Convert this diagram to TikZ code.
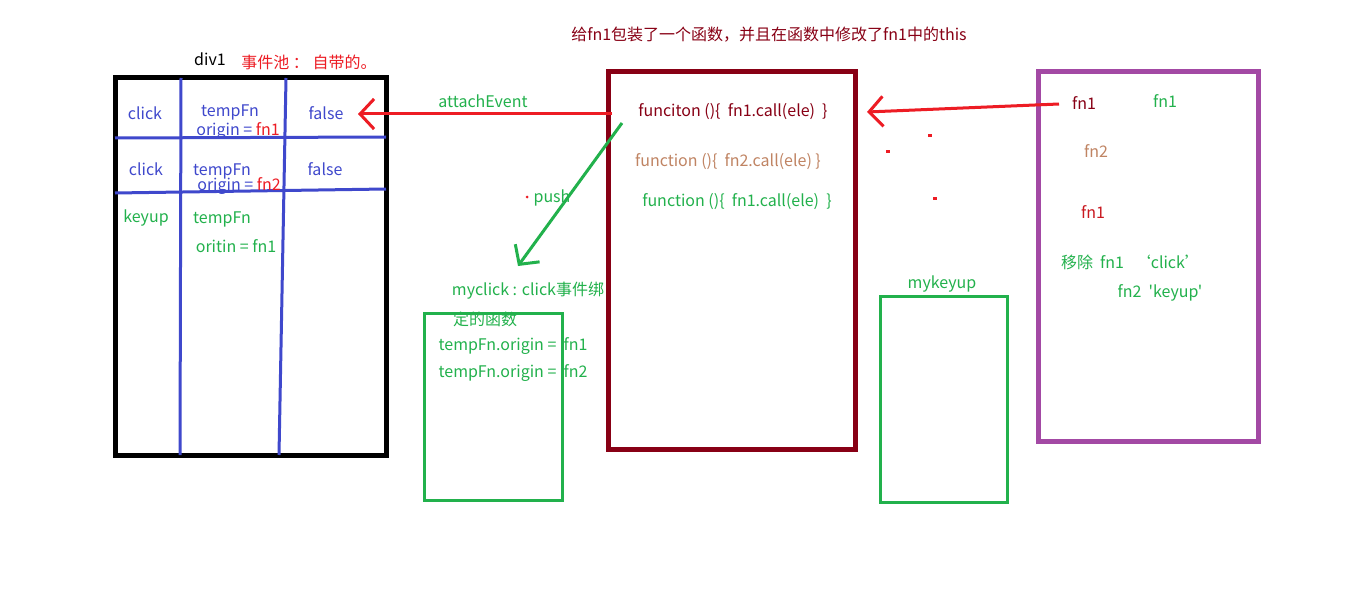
\documentclass[tikz,border=0pt]{standalone}
\usepackage{fontspec}
\newfontfamily\mainf{Noto Sans CJK SC}
\usetikzlibrary{arrows.meta}
\definecolor{cred}{HTML}{ED1C24}
\definecolor{cgreen}{HTML}{22B14C}
\definecolor{cdark}{HTML}{880015}
\definecolor{cpurple}{HTML}{A349A4}
\definecolor{cblue}{HTML}{3F48CC}
\definecolor{ctan}{HTML}{C08463}
\tikzset{
  txt/.style={inner sep=0pt, font=\mainf\fontsize{16}{19}\selectfont, anchor=center},
  bluetxt/.style={txt, text=cblue},
  greentxt/.style={txt, text=cgreen},
  gridline/.style={draw=cblue, line width=3pt},
  chev/.style={-{Straight Barb[length=14pt,width=30pt,line width=3pt]}},
}
\begin{document}
\begin{tikzpicture}[x=1pt,y=-1pt]
\useasboundingbox[fill=white] (0,0) rectangle (1360,591);
% title
\node[txt, text=cdark] (title) at (769,35) {给fn1包装了一个函数，并且在函数中修改了fn1中的this};
% event pool table
\node[txt] (div1) at (210,59) {div1};
\node[txt, text=cred] (pool) at (309,62) {事件池 ： 自带的。};
\draw[line width=5pt] (115,78) rectangle (386,455);
\coordinate (v1t) at (181,78); \coordinate (v1b) at (180,455);
\coordinate (v2t) at (286,78); \coordinate (v2b) at (279,455);
\coordinate (h1l) at (115,138); \coordinate (h1r) at (386,137);
\coordinate (h2l) at (115,193); \coordinate (h2r) at (386,189);
\draw[gridline] (v1t) -- (v1b);
\draw[gridline] (v2t) -- (v2b);
\draw[gridline] (h1l) -- (h1r);
\draw[gridline] (h2l) -- (h2r);
\node[bluetxt] (c1) at (145,113) {click};
\node[bluetxt] (t1) at (230,112) {tempFn};
\node[txt] (o1) at (238,131) {\color{cblue}origin\ =\ \color{cred}fn1};
\node[bluetxt] (f1) at (326,113) {false};
\node[bluetxt] (c2) at (146,169) {click};
\node[bluetxt] (t2) at (222,171) {tempFn};
\node[txt] (o2) at (239,186) {\color{cblue}origin\ =\ \color{cred}fn2};
\node[bluetxt] (f2) at (325,169) {false};
\node[greentxt] (k3) at (146,218) {keyup};
\node[greentxt] (t3) at (222,219) {tempFn};
\node[greentxt] (o3) at (236,246) {oritin\ =\ fn1};
% wrapper box
\draw[draw=cdark, line width=5pt] (608,72) rectangle (855,449);
\node[txt, text=cdark] (w1) at (733,112) {funciton ()\{\ \ fn1.call(ele)\ \ \}};
\node[txt, text=ctan] (w2) at (728,162) {function ()\{\ \ fn2.call(ele) \}};
\node[greentxt] (w3) at (737,202) {function ()\{\ \ fn1.call(ele)\ \ \}};
% attachEvent arrow
\coordinate (aeS) at (612,114);
\coordinate (aeE) at (358,114);
\draw[draw=cred, line width=3pt, chev] (aeS) -- (aeE);
\node[greentxt] (ae) at (483,101) {attachEvent};
% push arrow
\coordinate (pS) at (622,123);
\coordinate (pE) at (518,266);
\draw[draw=cgreen, line width=3pt, chev] (pS) -- (pE);
\node[greentxt] (push) at (552,198) {push};
\fill[cred] (527,197) circle (1.5);
% myclick box
\node[greentxt] (mc1) at (528,291) {myclick : click事件绑};
\node[greentxt] (mc2) at (485,319) {定的函数};
\draw[draw=cgreen, line width=3pt] (424,313) rectangle (562,500);
\node[greentxt] (mc3) at (513,346) {tempFn.origin\ =\ \ fn1};
\node[greentxt] (mc4) at (513,373) {tempFn.origin\ =\ \ fn2};
% mykeyup box
\node[greentxt] (mk) at (942,284) {mykeyup};
\draw[draw=cgreen, line width=3pt] (880,296) rectangle (1007,502);
% purple box
\draw[draw=cpurple, line width=5pt] (1038,72) rectangle (1258,441);
\node[txt, text=cdark] (p1) at (1084,103) {fn1};
\node[greentxt] (p2) at (1165,101) {fn1};
\node[txt, text=ctan] (p3) at (1096,151) {fn2};
\node[txt, text=cred!85!black] (p4) at (1093,212) {fn1};
\node[greentxt] (p5) at (1131,262) {移除\ \ fn1\ \ \ ‘click’};
\node[greentxt] (p6) at (1160,293) {fn2\ \ 'keyup'};
% red arrow from purple box
\coordinate (rS) at (1059,104);
\coordinate (rE) at (867,112);
\draw[draw=cred, line width=3pt, chev] (rS) -- (rE);
\fill[cred] (928,134) rectangle (932,137);
\fill[cred] (886,150) rectangle (890,153);
\fill[cred] (933,197) rectangle (937,200);
\end{tikzpicture}
\end{document}
